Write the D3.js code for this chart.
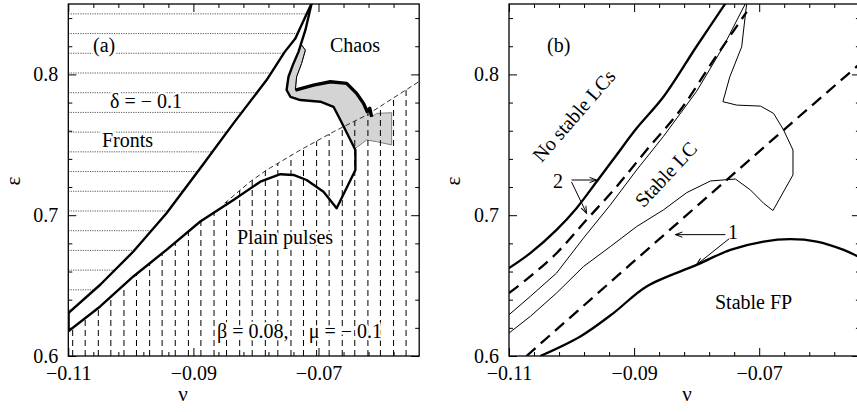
<!DOCTYPE html>
<html><head><meta charset="utf-8">
<script src="https://cdn.jsdelivr.net/npm/d3@7"></script>
<style>
body{margin:0;background:#fff}
text{font-family:"Liberation Serif","DejaVu Serif",serif;}
</style>
</head><body>
<svg id="chart" width="857" height="412"></svg>
<script>
// ---------- axis ticks ----------
const nuMajor = [-0.11, -0.09, -0.07];
const nuMajorLabels = ["−0.11", "−0.09", "−0.07"];
const nuMinor = [-0.106, -0.102, -0.098, -0.094, -0.086, -0.082, -0.078, -0.074, -0.066, -0.062, -0.058];
const epsMajor = [0.6, 0.7, 0.8];
const epsMajorLabels = ["0.6", "0.7", "0.8"];
const epsMinor = [0.62, 0.64, 0.66, 0.68, 0.72, 0.74, 0.76, 0.78, 0.82, 0.84];
const nuDomain = [-0.11, -0.0539];
const epsDomain = [0.6, 0.85];

// ---------- panel (a) data: [nu, eps] ----------
const aFrontsBoundary = [[-0.11,0.6305],[-0.1049,0.6506],[-0.0996,0.6742],[-0.0943,0.7014],[-0.0889,0.7333],[-0.0836,0.7652],[-0.0783,0.7960],[-0.0754,0.8160],[-0.0737,0.8255],[-0.0721,0.8409],[-0.0711,0.8504]];
const aOuterBoundary = [[-0.0711,0.8504],[-0.0721,0.8314],[-0.0732,0.8160],[-0.0740,0.8078],[-0.0748,0.7983],[-0.0751,0.7889],[-0.0745,0.7841],[-0.0729,0.7818],[-0.0697,0.7806],[-0.0676,0.7770],[-0.0665,0.7676],[-0.0657,0.7605],[-0.0649,0.7534],[-0.0641,0.7463],[-0.0641,0.7321],[-0.0671,0.7050],[-0.0692,0.7167],[-0.0719,0.7250],[-0.0740,0.7286],[-0.0761,0.7291],[-0.0793,0.7238],[-0.0836,0.7108],[-0.0889,0.6955],[-0.0943,0.6754],[-0.0996,0.6565],[-0.1049,0.6352],[-0.11,0.6175]];
const aSliverInner = [[-0.0728,0.8215],[-0.0721,0.8172],[-0.0727,0.8078],[-0.0735,0.7983],[-0.0737,0.7889]];
const aChaosBand = [[-0.0737,0.7889],[-0.0708,0.7924],[-0.0681,0.7948],[-0.0655,0.7936],[-0.0639,0.7865],[-0.0628,0.7794],[-0.0622,0.7735],[-0.0618,0.7759],[-0.0615,0.7699]];
const aGreyRight = [[-0.0615,0.7699],[-0.0607,0.7723],[-0.0583,0.7728],[-0.0583,0.7499],[-0.0607,0.7522],[-0.0623,0.7534],[-0.0636,0.7491],[-0.0641,0.7475]];
const aDiagDashed = [[-0.0850,0.7085],[-0.0810,0.7235],[-0.0783,0.7321],[-0.0729,0.7463],[-0.0675,0.7595],[-0.0623,0.7711],[-0.0539,0.7950]];
const frontsHatchEps = [0.843,0.829,0.815,0.801,0.787,0.773,0.759,0.745,0.731,0.717,0.703,0.689,0.675,0.661,0.647,0.633];
const pulsesHatchNu = [-0.1093,-0.1073,-0.1052,-0.1032,-0.1011,-0.0991,-0.0970,-0.0950,-0.0929,-0.0908,-0.0888,-0.0867,-0.0847,-0.0826,-0.0806,-0.0785,-0.0765,-0.0744,-0.0724,-0.0703,-0.0683,-0.0662,-0.0642,-0.0621,-0.0601,-0.0580,-0.0560];

// ---------- panel (b) data ----------
const bNoLCBoundary = [[-0.11,0.6624],[-0.1066,0.6730],[-0.1024,0.6896],[-0.0992,0.7050],[-0.0960,0.7238],[-0.0928,0.7428],[-0.0896,0.7617],[-0.0853,0.7841],[-0.0800,0.8200],[-0.0754,0.8504]];
const bDashed2 = [[-0.11,0.6447],[-0.1066,0.6565],[-0.1024,0.6730],[-0.0976,0.6967],[-0.0928,0.7203],[-0.0880,0.7463],[-0.0826,0.7747],[-0.0773,0.8101],[-0.0720,0.8444]];
const bThin1 = [[-0.11,0.6293],[-0.1066,0.6423],[-0.1024,0.6589],[-0.0981,0.6837],[-0.0938,0.7073],[-0.0896,0.7321],[-0.0853,0.7560],[-0.0800,0.7880],[-0.0757,0.8200],[-0.0722,0.8503]];
const bThin2 = [[-0.0720,0.8504],[-0.0728,0.8196],[-0.0747,0.7983],[-0.0758,0.7806],[-0.0736,0.7782],[-0.0698,0.7775],[-0.0677,0.7723],[-0.0661,0.7605],[-0.0646,0.7463],[-0.0646,0.7286],[-0.0678,0.7033],[-0.0693,0.7085],[-0.0714,0.7179],[-0.0738,0.7257],[-0.0778,0.7243],[-0.0816,0.7160],[-0.0853,0.7038],[-0.0896,0.6919],[-0.0938,0.6777],[-0.0981,0.6635],[-0.1024,0.6447],[-0.1066,0.6281],[-0.11,0.6163]];
const bDashed1 = [[-0.1072,0.6000],[-0.0906,0.6650],[-0.0661,0.7605],[-0.0539,0.8075]];
const bFPBoundary = [[-0.1050,0.6000],[-0.0986,0.6139],[-0.0933,0.6305],[-0.0880,0.6494],[-0.0800,0.6647],[-0.0746,0.6754],[-0.0693,0.6813],[-0.0650,0.6830],[-0.0608,0.6813],[-0.0565,0.6754],[-0.0539,0.6700]];
const bArrows2 = [[[-0.1000,0.7250],[-0.0960,0.7250]], [[-0.1000,0.7236],[-0.0976,0.7014]]];
const bArrows1 = [[[-0.0754,0.6862],[-0.0834,0.6862]], [[-0.0748,0.6833],[-0.0800,0.6649]]];

// ---------- drawing ----------
const svg = d3.select("#chart");
const defs = svg.append("defs");
defs.append("marker").attr("id","arr").attr("markerUnits","userSpaceOnUse")
  .attr("viewBox","-8 -4 10 8").attr("refX",0).attr("refY",0)
  .attr("markerWidth",10).attr("markerHeight",8).attr("orient","auto")
  .append("path").attr("d","M-7,-2.6L0,0L-7,2.6").attr("fill","none").attr("stroke","#000").attr("stroke-width",1);

function makePanel(id, x0, x1) {
  const x = d3.scaleLinear().domain(nuDomain).range([x0, x1]);
  const y = d3.scaleLinear().domain(epsDomain).range([356, 4]);
  const g = svg.append("g").attr("id", id);
  return {x, y, g};
}

function drawAxes(p, labelNuX, labelEpsX) {
  const {x, y, g} = p;
  const [l, r] = x.range(), [b, t] = y.range();
  const style = s => { s.select(".domain").remove(); s.selectAll("line").attr("stroke","#000").attr("stroke-width",1);
    s.attr("font-family",null).attr("font-size",null); s.selectAll("text").attr("font-size",20).attr("fill","#000"); };
  g.append("g").attr("transform",`translate(0,${b})`).call(d3.axisBottom(x).tickValues(nuMajor).tickSize(-8).tickPadding(10).tickFormat((d,i)=>nuMajorLabels[i])).call(style);
  g.append("g").attr("transform",`translate(0,${b})`).call(d3.axisBottom(x).tickValues(nuMinor).tickSize(-4).tickFormat("")).call(style);
  g.append("g").attr("transform",`translate(0,${t})`).call(d3.axisTop(x).tickValues(nuMajor).tickSize(-8).tickFormat("")).call(style);
  g.append("g").attr("transform",`translate(0,${t})`).call(d3.axisTop(x).tickValues(nuMinor).tickSize(-4).tickFormat("")).call(style);
  g.append("g").attr("transform",`translate(${l},0)`).call(d3.axisLeft(y).tickValues(epsMajor).tickSize(-8).tickPadding(10).tickFormat((d,i)=>epsMajorLabels[i])).call(style);
  g.append("g").attr("transform",`translate(${l},0)`).call(d3.axisLeft(y).tickValues(epsMinor).tickSize(-4).tickFormat("")).call(style);
  g.append("g").attr("transform",`translate(${r},0)`).call(d3.axisRight(y).tickValues(epsMajor).tickSize(-8).tickFormat("")).call(style);
  g.append("g").attr("transform",`translate(${r},0)`).call(d3.axisRight(y).tickValues(epsMinor).tickSize(-4).tickFormat("")).call(style);
  g.append("rect").attr("x",l).attr("y",t).attr("width",r-l).attr("height",b-t).attr("fill","none").attr("stroke","#000").attr("stroke-width",1.3);
  g.append("text").attr("x",labelNuX).attr("y",401).attr("text-anchor","middle").attr("font-size",21).text("ν");
  g.append("text").attr("transform",`translate(${labelEpsX},181) rotate(-90)`).attr("text-anchor","middle").attr("font-size",21).text("ε");
}

function label(g, x, y, txt, opts={}) {
  const t = g.append("text").attr("x",x).attr("y",y).attr("font-size",opts.size||20).attr("text-anchor",opts.anchor||"start").text(txt);
  if (opts.rotate!==undefined) t.attr("transform",`rotate(${opts.rotate},${x},${y})`).attr("text-anchor","middle");
  if (opts.halo) t.attr("stroke","#fff").attr("stroke-width",5).attr("stroke-linejoin","round").attr("paint-order","stroke");
  return t;
}

// ===== Panel (a) =====
const A = makePanel("pa", 68.3, 419.2);
{
  const {x, y, g} = A;
  const line = d3.line().x(d=>x(d[0])).y(d=>y(d[1]));
  defs.append("clipPath").attr("id","clipA").append("rect")
    .attr("x",x.range()[0]).attr("y",y.range()[1]).attr("width",x.range()[1]-x.range()[0]).attr("height",y.range()[0]-y.range()[1]);

  // grey region
  const greyPoly = aSliverInner.concat(aChaosBand.slice(1), aGreyRight.slice(1), aOuterBoundary.slice(2,14).reverse());
  g.append("path").attr("d", line(greyPoly)+"Z").attr("fill","#d4d4d4").attr("stroke","#666").attr("stroke-width",0.8);

  // fronts hatch (horizontal dotted)
  const frontsRegion = [[nuDomain[0], epsDomain[1]]].concat(aFrontsBoundary.slice().reverse());
  defs.append("clipPath").attr("id","clipFronts").append("path").attr("d", line(frontsRegion)+"Z");
  g.append("g").attr("clip-path","url(#clipFronts)").selectAll("line").data(frontsHatchEps).join("line")
    .attr("x1",x(nuDomain[0])).attr("x2",x(nuDomain[1])).attr("y1",d=>y(d)).attr("y2",d=>y(d))
    .attr("stroke","#444").attr("stroke-width",0.9).attr("stroke-dasharray","1.2,1.2");

  // pulses hatch (vertical dashed)
  const lowerLeft = aOuterBoundary.slice(21).reverse();
  const pulsesRegion = [[nuDomain[0], epsDomain[0]]].concat(lowerLeft.slice(0, -1), aDiagDashed, [[nuDomain[1], epsDomain[0]]]);
  defs.append("clipPath").attr("id","clipPulses").append("path").attr("d", line(pulsesRegion)+"Z");
  g.append("g").attr("clip-path","url(#clipPulses)").selectAll("line").data(pulsesHatchNu).join("line")
    .attr("x1",d=>x(d)).attr("x2",d=>x(d)).attr("y1",y(epsDomain[0])).attr("y2",y(epsDomain[1]))
    .attr("stroke","#000").attr("stroke-width",1).attr("stroke-dasharray","6,4");

  // diagonal thin dashed line
  g.append("path").attr("d", line(aDiagDashed)).attr("fill","none").attr("stroke","#000").attr("stroke-width",0.8).attr("stroke-dasharray","5,3");

  // boundaries
  g.append("g").attr("clip-path","url(#clipA)").call(s=>{
    s.append("path").attr("d", line(aFrontsBoundary)).attr("fill","none").attr("stroke","#000").attr("stroke-width",2.4).attr("stroke-linejoin","round");
    s.append("path").attr("d", line(aOuterBoundary)).attr("fill","none").attr("stroke","#000").attr("stroke-width",2.4).attr("stroke-linejoin","round");
    s.append("path").attr("d", line(aSliverInner)).attr("fill","none").attr("stroke","#000").attr("stroke-width",1);
    s.append("path").attr("d", line(aChaosBand)).attr("fill","none").attr("stroke","#000").attr("stroke-width",3.4).attr("stroke-linejoin","round");
    s.append("path").attr("d", line([[nuDomain[0], aOuterBoundary[aOuterBoundary.length-1][1]],[nuDomain[0], aFrontsBoundary[0][1]]])).attr("stroke","#000").attr("stroke-width",3);
  });

  drawAxes(A, 183, 20);
  label(g, 93, 52, "(a)", {halo:true});
  label(g, 330, 52, "Chaos");
  label(g, 110, 108, "δ = − 0.1", {halo:true});
  label(g, 102, 147, "Fronts", {halo:true});
  label(g, 237, 244, "Plain pulses", {halo:true});
  label(g, 217, 338, "β = 0.08,", {halo:true});
  label(g, 382, 338, "μ = − 0.1", {anchor:"end", halo:true});
}

// ===== Panel (b) =====
const B = makePanel("pb", 509, 859.9);
{
  const {x, y, g} = B;
  const line = d3.line().x(d=>x(d[0])).y(d=>y(d[1]));
  const smooth = d3.line().x(d=>x(d[0])).y(d=>y(d[1])).curve(d3.curveCatmullRom);
  defs.append("clipPath").attr("id","clipB").append("rect")
    .attr("x",x.range()[0]).attr("y",y.range()[1]).attr("width",x.range()[1]-x.range()[0]).attr("height",y.range()[0]-y.range()[1]);
  const c = g.append("g").attr("clip-path","url(#clipB)");
  c.append("path").attr("d", smooth(bNoLCBoundary)).attr("fill","none").attr("stroke","#000").attr("stroke-width",2.3);
  c.append("path").attr("d", smooth(bDashed2)).attr("fill","none").attr("stroke","#000").attr("stroke-width",2.3).attr("stroke-dasharray","12,7");
  c.append("path").attr("d", line(bThin1)).attr("fill","none").attr("stroke","#000").attr("stroke-width",1);
  c.append("path").attr("d", line(bThin2)).attr("fill","none").attr("stroke","#000").attr("stroke-width",1);
  c.append("path").attr("d", line(bDashed1)).attr("fill","none").attr("stroke","#000").attr("stroke-width",2.3).attr("stroke-dasharray","12,7");
  c.append("path").attr("d", smooth(bFPBoundary)).attr("fill","none").attr("stroke","#000").attr("stroke-width",2.3);
  bArrows2.concat(bArrows1).forEach(a=>{
    g.append("path").attr("d", line(a)).attr("fill","none").attr("stroke","#000").attr("stroke-width",1).attr("marker-end","url(#arr)");
  });

  drawAxes(B, 687, 460);
  label(g, 547, 52, "(b)");
  label(g, 579, 120, "No stable LCs", {rotate:-49});
  label(g, 671, 179, "Stable LC", {rotate:-47});
  label(g, 715, 309, "Stable FP");
  label(g, 558, 188, "2", {anchor:"middle"});
  label(g, 733, 239, "1", {anchor:"middle"});
}
</script>
</body></html>
